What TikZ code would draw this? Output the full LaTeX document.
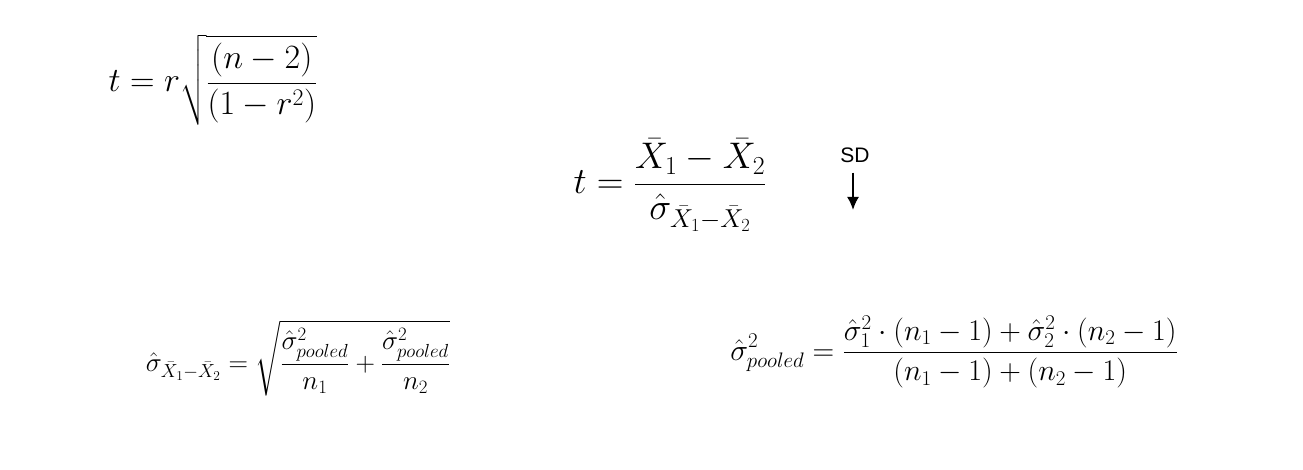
\RequirePackage{fix-cm}
\documentclass[tikz,border=0pt]{standalone}
\usepackage{amsmath}
\usepackage{fontspec}
\usetikzlibrary{arrows.meta}
\newfontfamily\sdfont{Liberation Sans}
\begin{document}
\begin{tikzpicture}[x=1pt,y=-1pt,
  eq/.style={inner sep=0pt},
  big/.style={eq,font=\fontsize{34}{40}\selectfont},
  mid/.style={eq,font=\fontsize{37}{44}\selectfont},
  small/.style={eq,font=\fontsize{27}{32}\selectfont},
  wide/.style={eq,font=\fontsize{30}{36}\selectfont}]
\useasboundingbox (0,0) rectangle (1303,470);
\node[big] (f1) at (213,80) {$\displaystyle t=r\sqrt{\frac{(n-2)}{(1-r^2)}}$};
\node[mid] (f2) at (670,185) {$\displaystyle t=\frac{\bar X_1-\bar X_2}{\hat\sigma_{\bar X_1-\bar X_2}}$};
\node[small] (f3) at (298,358) {$\displaystyle \hat\sigma_{\bar X_1-\bar X_2}=\sqrt{\frac{\hat\sigma^2_{pooled}}{n_1}+\frac{\hat\sigma^2_{pooled}}{n_2}}$};
\node[wide] (f4) at (954,352) {$\displaystyle \hat\sigma^2_{pooled}=\frac{\hat\sigma^2_1\cdot(n_1-1)+\hat\sigma^2_2\cdot(n_2-1)}{(n_1-1)+(n_2-1)}$};
\node[eq,font=\sdfont\fontsize{21}{25}\selectfont] (sd) at (855,155) {SD};
\coordinate (sdtip) at (853,210);
\draw[line width=2pt,-{Latex[length=13pt,width=12pt]}] (sd.south -| sdtip) ++(0,10) -- (sdtip);
\end{tikzpicture}
\end{document}
